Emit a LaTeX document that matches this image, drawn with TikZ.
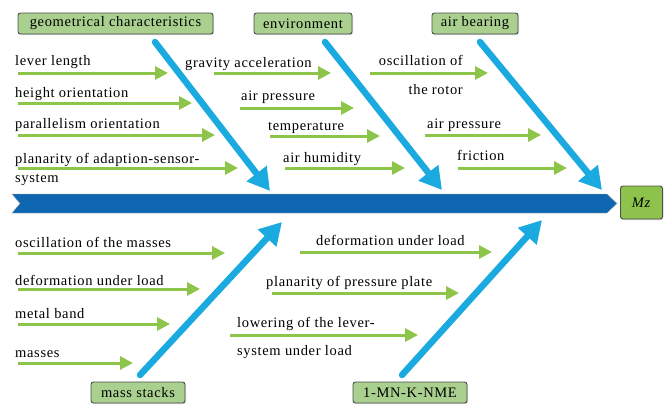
\documentclass[tikz,border=0pt]{standalone}
\usepackage{fontspec}
\setmainfont{Liberation Serif}
\newfontfamily\lblfont[LetterSpace=4.5]{Liberation Serif}
\usetikzlibrary{arrows.meta, shadows}
\definecolor{spineblue}{RGB}{14,103,176}
\definecolor{boneblue}{RGB}{27,170,224}
\definecolor{twiggreen}{RGB}{141,196,74}
\definecolor{headgreen}{RGB}{169,208,142}
\definecolor{effgreen}{RGB}{141,195,76}

\begin{document}
\begin{tikzpicture}[x=1pt, y=-1pt,
  every node/.style={font=\lblfont\fontsize{14.5}{17}\selectfont},
  head/.style={draw=gray!60!black, fill=headgreen, rounded corners=2.5pt, line width=0.9pt,
    minimum height=21pt, inner sep=0pt, drop shadow={shadow xshift=1pt, shadow yshift=-1.2pt, opacity=0.3}},
  lbl/.style={anchor=base west, inner sep=0pt},
  bone/.style={-{Triangle[length=22pt,width=24pt]}, boneblue, line width=6.5pt, line cap=round},
  twig/.style={-{Triangle[length=13pt,width=13pt]}, twiggreen, line width=3pt},
]
\useasboundingbox (0,0) rectangle (670,405);

% spine
\filldraw[spineblue, draw=gray!70] (12,194) -- (607,194) -- (617,203.5) -- (607,213)
  -- (12,213) -- (20,203.5) -- cycle;
\node[head, fill=effgreen, minimum width=42pt, minimum height=33pt] (mz) at (641.5,202.5) {\textit{Mz}};

% causes
\node[head, minimum width=195pt] (gc) at (115.5,23.5) {geometrical characteristics};
\node[head, minimum width=98pt]  (en) at (303,23.5) {environment};
\node[head, minimum width=86pt]  (ab) at (475,23.5) {air bearing};
\node[head, minimum width=94pt]  (ms) at (138,392.5) {mass stacks};
\node[head, minimum width=114pt] (mn) at (410,392.5) {1-MN-K-NME};

% main bones
\foreach \n/\xa/\ya/\xb/\yb in {gc/155/42/270/191, en/325/42/442/190, ab/480/42/602/190,
    ms/140/375/282/222, mn/402/375/542/220}{
  \coordinate (\n-a) at (\xa,\ya);
  \coordinate (\n-b) at (\xb,\yb);
  \draw[bone] (\n-a) -- (\n-b);
}

% sub causes
\foreach \n/\xa/\xb/\y in {ll/18/168/73, ho/18/192/103, po/18/215/135, ps/18/238/168,
    ga/214/331/73, ap/240/354/108, te/270/380/136, ah/285/405/168,
    or/370/488/73, bp/425/541/135, fr/458/567/168,
    om/18/225/253, dl/18/200/289, mb/18/170/324, ma/18/133/363,
    du/300/492/252, pp/272/459/293, lo/230/418/335}{
  \coordinate (\n-s) at (\xa,\y);
  \coordinate (\n-e) at (\xb,\y);
  \draw[twig] (\n-s) -- (\n-e);
}

\foreach \n/\x/\y/\t in {ll/15/65/lever length, ho/15/97/height orientation,
    po/15/128/parallelism orientation, ga/185/67/gravity acceleration,
    ap/241/100/air pressure, te/268/130/temperature, ah/283/162/air humidity,
    bp/427/128/air pressure, fr/457/160/friction,
    om/15/247/oscillation of the masses, dl/15/285/deformation under load,
    mb/15/318/metal band, ma/15/357/masses,
    du/316/245/deformation under load, pp/266/286/planarity of pressure plate}
  \node[lbl] (t-\n) at (\x,\y) {\t};
% multi-line labels: base is the last line
\node[lbl, align=left] (t-ps) at (15,182) {planarity of adaption-sensor-\\[2pt]system};
\node[lbl, anchor=base east, align=right] (t-or) at (463,94) {oscillation of\\[12pt]the rotor};
\node[lbl, align=left] (t-lo) at (237,355) {lowering of the lever-\\[11pt]system under load};
\end{tikzpicture}
\end{document}
